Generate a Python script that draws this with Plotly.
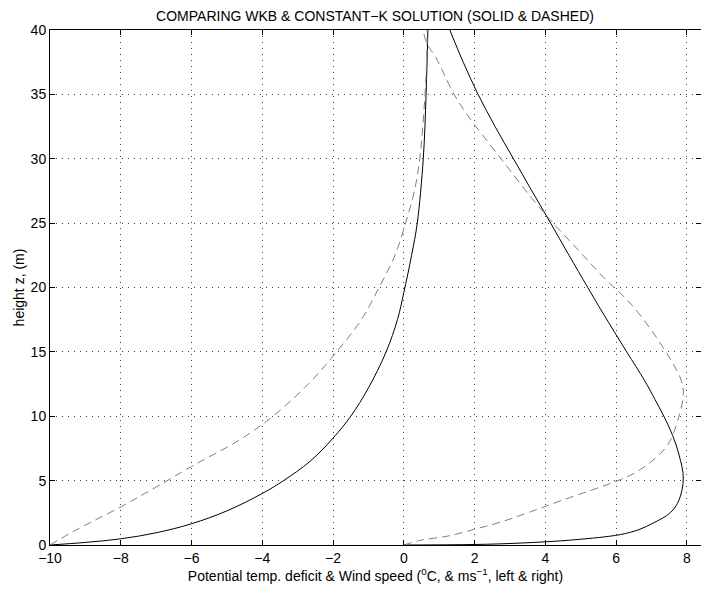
import plotly.graph_objects as go

# Heights (m) and values
z_wkb_temp = [0, 0.2, 0.48, 0.95, 1.65, 2.65, 4.0, 5.0, 6.5, 8.3, 10, 12.2, 15, 17.5, 19.6, 22.5, 25, 30, 35, 40]
x_wkb_temp = [-10, -9.0, -8.0, -7.0, -6.0, -5.0, -4.0, -3.4, -2.65, -2.0, -1.5, -1.0, -0.5, -0.18, 0.0, 0.22, 0.38, 0.55, 0.63, 0.68]

z_ck_temp = [0, 1.07, 2.96, 4.5, 6.1, 8.2, 10, 12.5, 15, 17.5, 20, 22.5, 25, 27.5, 30, 35, 38, 40]
x_ck_temp = [-10, -9.33, -8.0, -7.0, -6.0, -4.62, -3.7, -2.7, -1.9, -1.2, -0.7, -0.25, 0.05, 0.3, 0.45, 0.6, 0.65, 0.66]

z_wkb_wind = [0, 0.04, 0.15, 0.4, 0.81, 1.2, 1.72, 2.5, 3.5, 5.2, 7, 8.5, 10, 11.3, 12.8, 15, 18, 20, 22.5, 25, 27.5, 30, 32.5, 35, 37.5, 40]
x_wkb_wind = [0, 2.0, 3.3, 4.8, 6.12, 6.65, 7.06, 7.53, 7.78, 7.90, 7.78, 7.6, 7.35, 7.1, 6.8, 6.3, 5.63, 5.2, 4.67, 4.15, 3.62, 3.1, 2.58, 2.1, 1.68, 1.3]

z_ck_wind = [0, 0.37, 0.68, 1.2, 1.77, 2.5, 3.5, 5.08, 5.85, 7.66, 10, 11.8, 12.8, 14.9, 18.5, 20.8, 23, 25, 27, 30, 33.2, 35, 37.9, 38.9, 39.8, 40]
x_ck_wind = [0, 0.47, 1.22, 1.97, 2.73, 3.5, 4.5, 6.12, 6.68, 7.43, 7.78, 7.9, 7.84, 7.43, 6.49, 5.64, 4.9, 4.22, 3.6, 2.75, 1.85, 1.42, 0.9, 0.66, 0.56, 0.55]

x_ticks = [-10, -8, -6, -4, -2, 0, 2, 4, 6, 8]
y_ticks = [0, 5, 10, 15, 20, 25, 30, 35, 40]

fig = go.Figure()
solid = dict(color="black", width=1, shape="spline", smoothing=1.0)
dashed = dict(color="#7f7f7f", width=1, dash="8px,5px", shape="spline", smoothing=1.0)
fig.add_trace(go.Scatter(x=x_wkb_temp, y=z_wkb_temp, mode="lines", line=solid))
fig.add_trace(go.Scatter(x=x_ck_temp, y=z_ck_temp, mode="lines", line=dashed))
fig.add_trace(go.Scatter(x=x_wkb_wind, y=z_wkb_wind, mode="lines", line=solid))
fig.add_trace(go.Scatter(x=x_ck_wind, y=z_ck_wind, mode="lines", line=dashed))

axis_common = dict(
    showline=True, linecolor="black", linewidth=1, mirror="ticks",
    ticks="inside", ticklen=5, tickcolor="black", tickwidth=1,
    showgrid=True, gridcolor="#444444", gridwidth=1, griddash="1px,5px",
    zeroline=False, tickfont=dict(size=14, color="black"),
)
fig.update_xaxes(range=[-10, 8.40], tickvals=x_ticks, **axis_common,
                 title=dict(text="Potential temp. deficit & Wind speed (<sup>0</sup>C, & ms<sup>−1</sup>, left & right)",
                            font=dict(size=14, color="black"), standoff=4))
fig.update_yaxes(range=[0, 40], tickvals=y_ticks, **axis_common,
                 title=dict(text="height z, (m)", font=dict(size=14, color="black"), standoff=2))

fig.update_layout(
    width=701, height=593,
    margin=dict(l=50, r=0, t=30, b=48),
    paper_bgcolor="white", plot_bgcolor="white",
    showlegend=False,
    font=dict(family="Liberation Sans, Arial, sans-serif", color="black"),
    title=dict(text="COMPARING WKB & CONSTANT−K SOLUTION (SOLID & DASHED)",
               x=0.535, xanchor="center", y=0.973, yanchor="middle",
               font=dict(size=14, color="black")),
)
fig.write_html("out.html", config={"displayModeBar": False},
               post_script="document.body.style.margin='0';")
